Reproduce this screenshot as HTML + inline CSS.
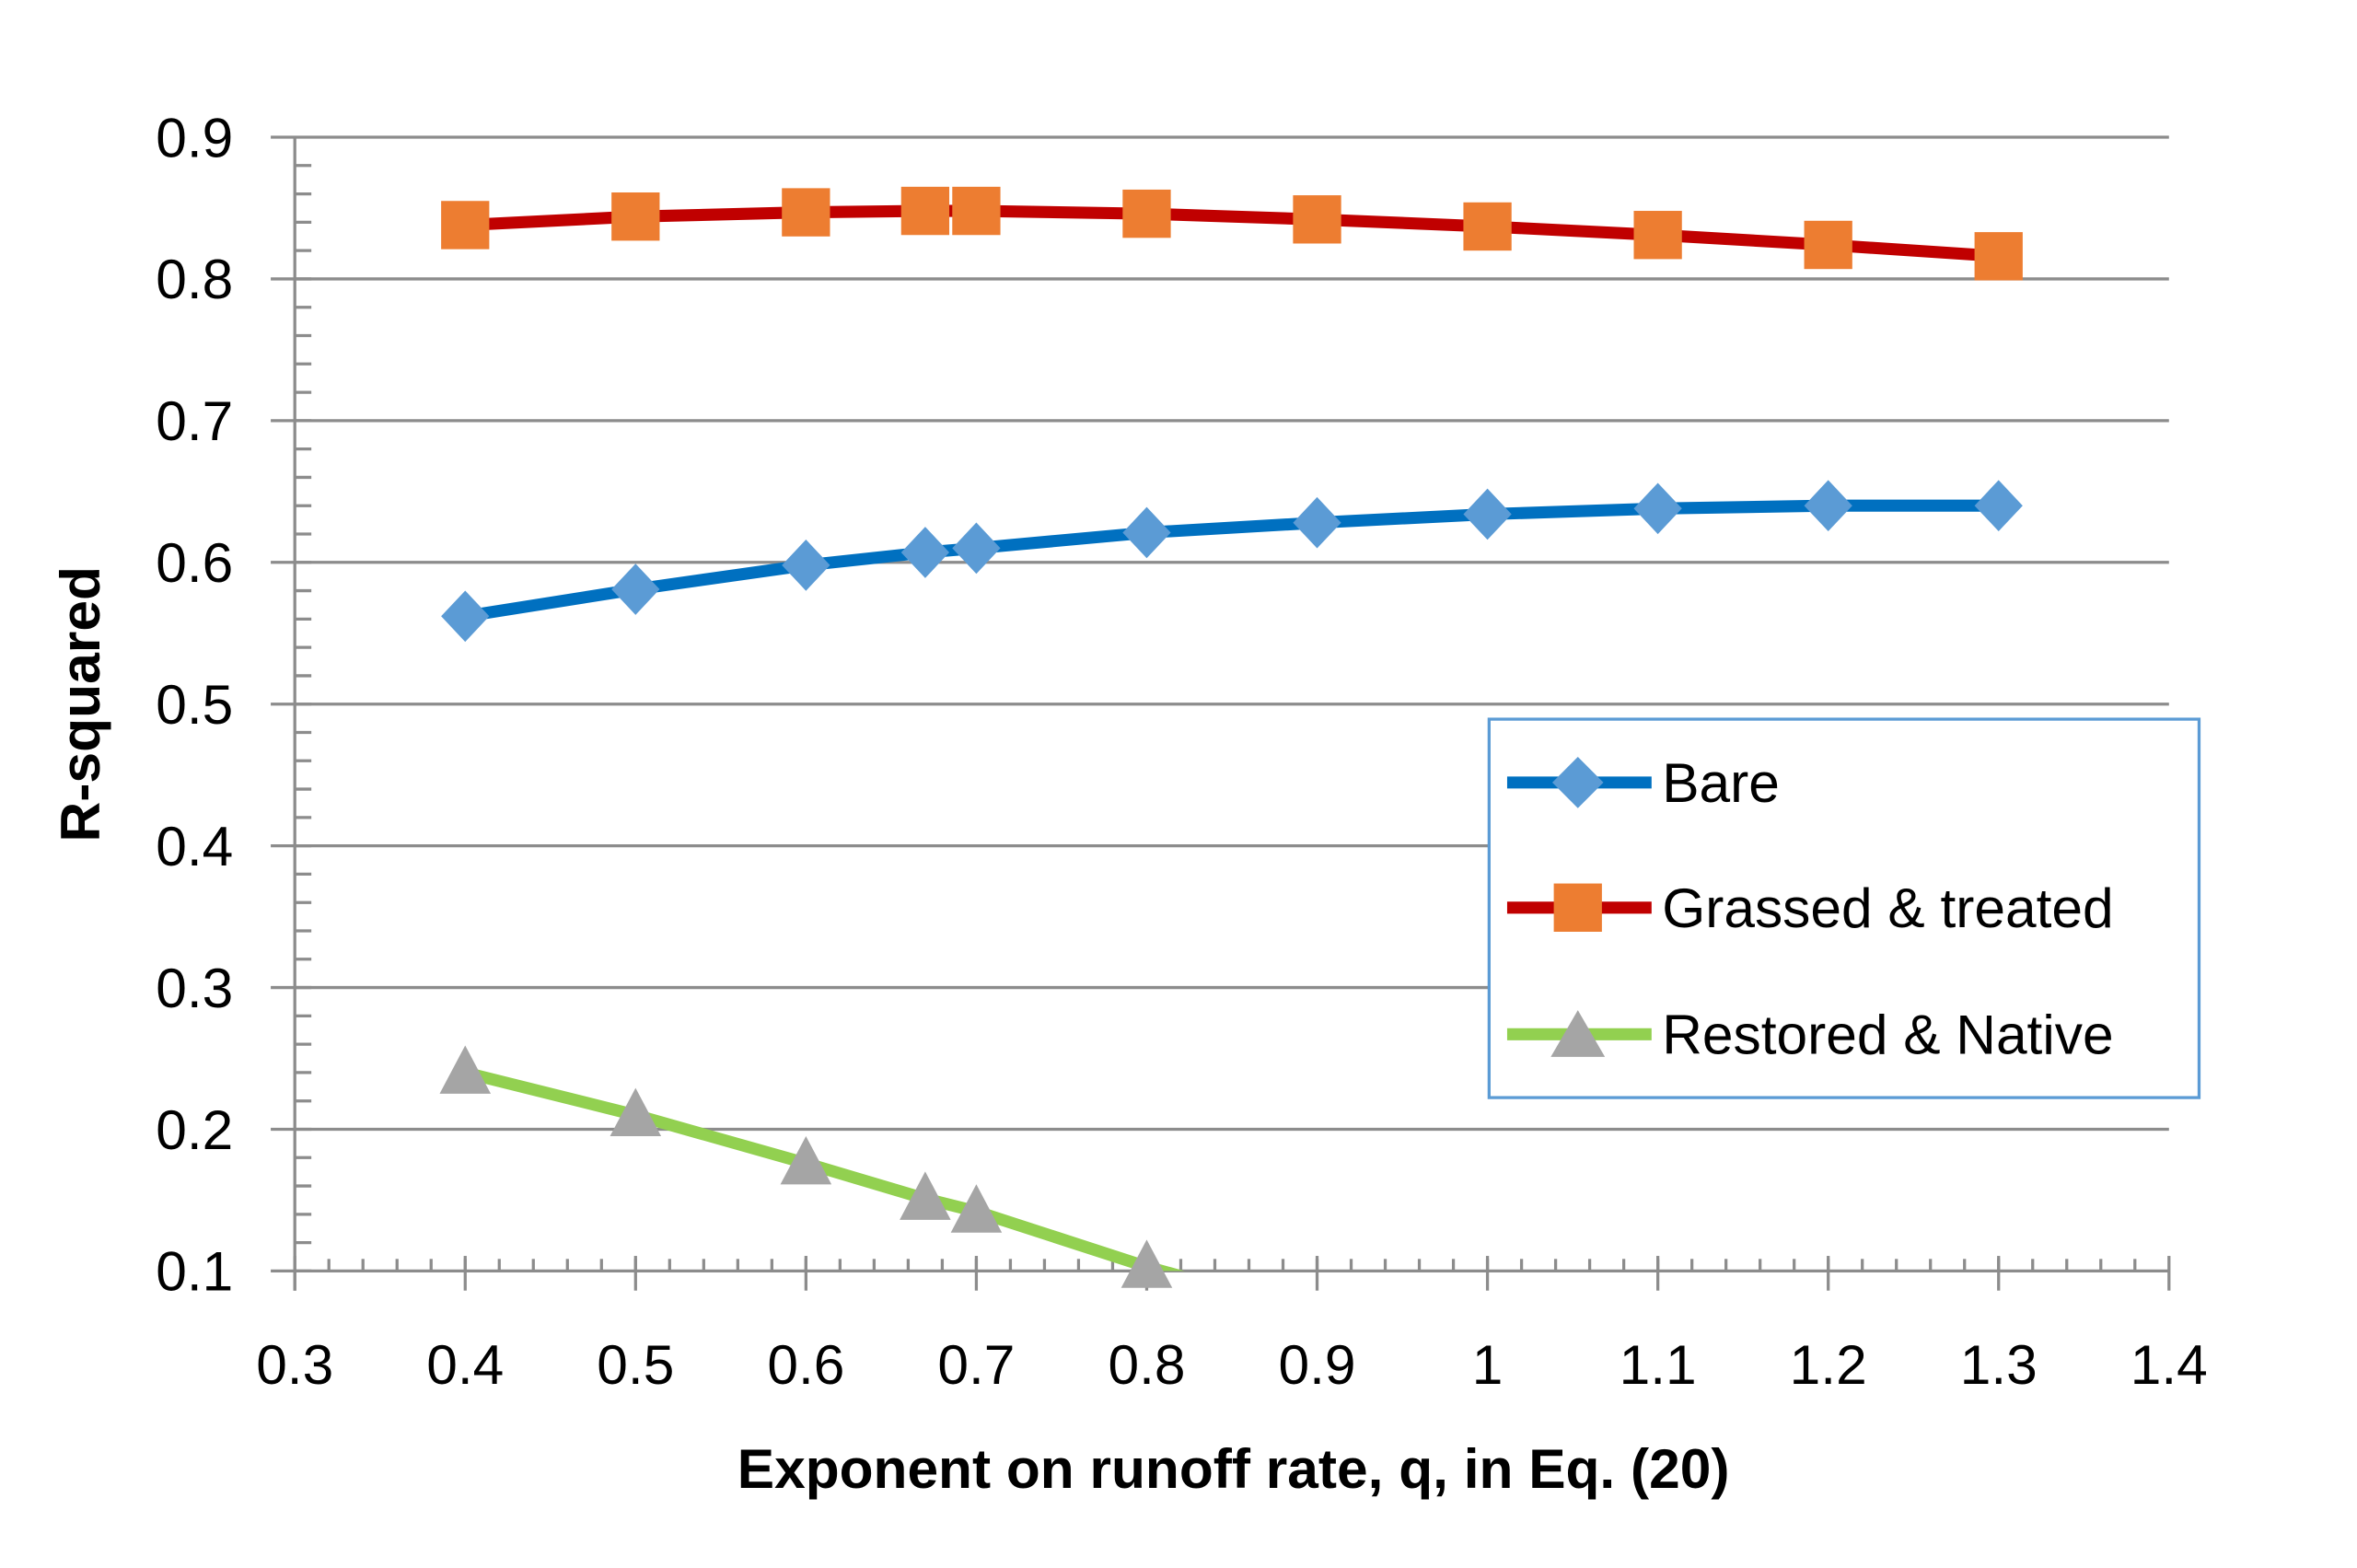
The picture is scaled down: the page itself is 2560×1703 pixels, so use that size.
<!DOCTYPE html>
<html><head><meta charset="utf-8"><style>
html,body{margin:0;padding:0;background:#fff;}
svg{display:block;}
text{font-family:"Liberation Sans",sans-serif;}
</style></head><body>
<svg id="chart" width="2560" height="1703" viewBox="0 0 1567 1040" preserveAspectRatio="none" xmlns="http://www.w3.org/2000/svg">
<defs><clipPath id="plotclip"><rect x="196" y="80" width="1250" height="763"/></clipPath></defs>
<g id="grid"></g>
<g id="axes"></g>
<g id="series" clip-path="url(#plotclip)"></g>
<g id="markers"></g>
<text x="820" y="987" text-anchor="middle" font-size="37" font-weight="bold">Exponent on runoff rate, q, in Eq. (20)</text>
<text x="0" y="0" transform="translate(66,467) rotate(-90)" text-anchor="middle" font-size="37" font-weight="bold">R-squared</text>
<g>
<rect x="990" y="477" width="472" height="251" fill="#fff" stroke="#5b9bd5" stroke-width="2"/>
<g>
<line x1="1002" y1="519" x2="1098" y2="519" stroke="#0070c0" stroke-width="8"/>
<polygon points="1049,502 1066,519 1049,536 1032,519" fill="#5b9bd5"/>
<text x="1105" y="532" font-size="37">Bare</text></g>
<g>
<line x1="1002" y1="602" x2="1098" y2="602" stroke="#c00000" stroke-width="8"/>
<rect x="1033" y="586" width="32" height="32" fill="#ed7d31"/>
<text x="1105" y="615" font-size="37">Grassed &amp; treated</text></g>
<g>
<line x1="1002" y1="686" x2="1098" y2="686" stroke="#92d050" stroke-width="8"/>
<polygon points="1049,670 1067,701 1031,701" fill="#a5a5a5"/>
<text x="1105" y="699" font-size="37">Restored &amp; Native</text></g>
</g>
<script>
const xTicks=[0.3,0.4,0.5,0.6,0.7,0.8,0.9,1,1.1,1.2,1.3,1.4];
const xTickLabels=["0.3","0.4","0.5","0.6","0.7","0.8","0.9","1","1.1","1.2","1.3","1.4"];
const yTicks=[0.1,0.2,0.3,0.4,0.5,0.6,0.7,0.8,0.9];
const yTickLabels=["0.1","0.2","0.3","0.4","0.5","0.6","0.7","0.8","0.9"];
const qValues=[0.4,0.5,0.6,0.67,0.7,0.8,0.9,1,1.1,1.2,1.3];
const bareValues=[0.562,0.581,0.598,0.607,0.610,0.621,0.628,0.634,0.638,0.640,0.640];
const grassedValues=[0.838,0.844,0.847,0.848,0.848,0.846,0.842,0.837,0.831,0.824,0.816];
const restoredQ=[0.4,0.5,0.6,0.67,0.7,0.8];
const restoredValues=[0.240,0.210,0.176,0.151,0.142,0.103];
const restoredLineEndQ=0.83;
const restoredLineEndValue=0.093;

const NS="http://www.w3.org/2000/svg";
const X0=196,X1=1442,Y0=843,Y1=91;
function xs(v){return X0+(v-0.3)/(1.4-0.3)*(X1-X0);}
function ys(v){return Y0-(v-0.1)/(0.9-0.1)*(Y0-Y1);}
function mk(tag,attrs,parent){const e=document.createElementNS(NS,tag);for(const k in attrs)e.setAttribute(k,attrs[k]);parent.appendChild(e);return e;}
const grid=document.getElementById('grid'),axes=document.getElementById('axes'),series=document.getElementById('series'),markers=document.getElementById('markers');
const gc="#8c8c8c";
yTicks.forEach((t,i)=>{
  const l=mk('line',{x1:180,x2:X1,y1:ys(t),y2:ys(t),stroke:gc,'stroke-width':2},grid);
  
  
  const tx=mk('text',{x:155,y:ys(t)+13,'text-anchor':'end','font-size':37},axes);
  tx.textContent=yTickLabels[i];
  
  
});
for(let v=0.1;v<0.9;v+=0.02){const y=ys(v);mk('line',{x1:X0,x2:207,y1:y,y2:y,stroke:gc,'stroke-width':2},axes);}
mk('line',{x1:X0,x2:X0,y1:Y1,y2:856,stroke:gc,'stroke-width':2},axes);
xTicks.forEach((t,i)=>{
  const x=xs(t);
  mk('line',{x1:x,x2:x,y1:Y0-10,y2:856,stroke:gc,'stroke-width':2},axes);
  const tx=mk('text',{x:x,y:918,'text-anchor':'middle','font-size':37},axes);
  tx.textContent=xTickLabels[i];
  
  
});
for(let v=0.32;v<1.4;v+=0.02){const x=xs(v);mk('line',{x1:x,x2:x,y1:Y0-8,y2:Y0,stroke:gc,'stroke-width':2},axes);}
function line(xv,yv,color,name){
  const p=mk('polyline',{points:xv.map((q,i)=>xs(q)+','+ys(yv[i])).join(' '),fill:'none',stroke:color,'stroke-width':8,'stroke-linejoin':'round'},series);
  
  
}
line(qValues,bareValues,'#0070c0','bare-line');
line(qValues,grassedValues,'#c00000','grassed-line');
line(restoredQ.concat([restoredLineEndQ]),restoredValues.concat([restoredLineEndValue]),'#92d050','restored-line');
qValues.forEach((q,i)=>{
  const x=xs(q),y=ys(bareValues[i]);
  const d=mk('polygon',{points:`${x},${y-17} ${x+16},${y} ${x},${y+17} ${x-16},${y}`,fill:'#5b9bd5'},markers);
  
  
  const y2=ys(grassedValues[i]);
  const s=mk('rect',{x:x-16,y:y2-16,width:32,height:32,fill:'#ed7d31'},markers);
  
  
});
restoredQ.forEach((q,i)=>{
  const x=xs(q),y=ys(restoredValues[i]);
  const t=mk('polygon',{points:`${x},${y-18} ${x+17},${y+14} ${x-17},${y+14}`,fill:'#a5a5a5'},markers);
  
  
});
</script>
</svg>
</body></html>
